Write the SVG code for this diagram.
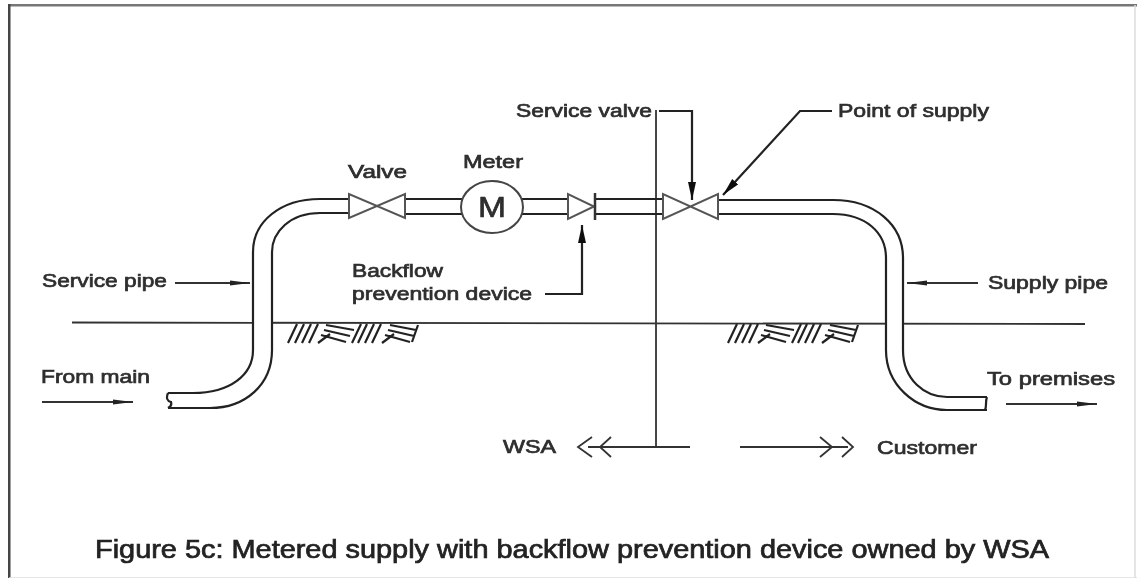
<svg xmlns="http://www.w3.org/2000/svg" width="1137" height="579" viewBox="0 0 1137 579">
<style>
text{font-family:"Liberation Sans",Arial,sans-serif;font-size:19px;fill:#2e2e2e;stroke:#2e2e2e;stroke-width:.7}
.l{fill:none;stroke:#222;stroke-width:2.200}
.t{fill:none;stroke:#333;stroke-width:1.800}
.h{fill:none;stroke:#222;stroke-width:2.200}
.s{fill:#fff;stroke:#555;stroke-width:2}
</style>
<defs>
<filter id="b" x="0" y="0" width="100%" height="100%"><feGaussianBlur stdDeviation="0.6"/></filter>
<marker id="a" markerUnits="userSpaceOnUse" markerWidth="22" markerHeight="10" refX="20" refY="5" orient="auto"><path d="M0 2.500L20 5L0 7.500Z" fill="#222"/></marker>
<marker id="c" markerUnits="userSpaceOnUse" markerWidth="20" markerHeight="10" refX="18" refY="5" orient="auto"><path d="M0 1L18 5L0 9Z" fill="#111"/></marker>
<g id="hatch" class="h"><path d="M0 19L9 0M7 19L16 0M14 19L23 0M21 19L30 0M38 1L66 6M36 6L62 12M33 11L58 18M30 19L42 10M64 19L73 0M70 19L79 0M77 19L86 0M84 19L93 0M102 1L128 6M100 6L126 12M97 11L122 18M94 19L106 10M130 1L124 18"/></g>
</defs>
<rect width="1137" height="579" fill="#fff"/>
<g filter="url(#b)">
<path d="M8 5H1137" fill="none" stroke="#777" stroke-width="3"/>
<path d="M9 4V578" fill="none" stroke="#444" stroke-width="3"/>
<path d="M9 578H1137M1135 5V578" fill="none" stroke="#ddd" stroke-width="1.500"/>
<g id="connectors">
<path class="t" d="M72 322.500L1085 324"/>
<path class="t" d="M656 110V447"/>
<path class="t" d="M588 447H690M740 447H848"/>
<path class="t" d="M175 283H250" marker-end="url(#a)"/>
<path class="t" d="M42 402H133" marker-end="url(#a)"/>
<path class="t" d="M978 283H907" marker-end="url(#a)"/>
<path class="t" d="M1006 404H1097" marker-end="url(#a)"/>
<path class="l" d="M659 111H692V200" marker-end="url(#c)"/>
<path class="l" d="M545 294H582V225" marker-end="url(#c)"/>
<path class="l" d="M832 111H800L723 195" marker-end="url(#c)"/>
<path class="t" d="M592 437L578 447L592 457M611 437L600 447L611 457"/>
<path class="t" d="M820 437L832 447L820 457M842 437L853 447L842 457"/>
</g>
<g id="ground-left"><use href="#hatch" x="288" y="324"/></g>
<g id="ground-right"><use href="#hatch" x="728" y="324"/></g>
<g id="service-pipe">
<path d="M168 393H193C230 393 253 375 253 350V252C253 222 280 199 320 199H350V213H320C290 213 272 232 272 252V350C272 385 245 408 210 408H168Z" fill="#fff" stroke="none"/>
<path class="l" d="M168 393H193C230 393 253 375 253 350V252C253 222 280 199 320 199H350M350 213H320C290 213 272 232 272 252V350C272 385 245 408 210 408H168M168 393C166 398 167 401 171 402C172 405 170 407 168 408"/>
</g>
<g id="supply-pipe">
<path d="M718 200H833C875 200 903 225 903 258V350C903 380 925 397 947 397H987V410H947C915 410 886 385 886 350V258C886 232 865 214 833 214H718Z" fill="#fff" stroke="none"/>
<path class="l" d="M718 200H833C875 200 903 225 903 258V350C903 380 925 397 947 397H987M718 214H833C865 214 886 232 886 258V350C886 385 915 410 947 410H987M987 397C985 402 987 406 985 410"/>
</g>
<g id="pipe-segments">
<path class="l" d="M405 199H462M405 214H462M522 199H567M522 214H567M596 199H663M596 214H663"/>
</g>
<g id="valve"><path class="s" d="M349 194V218L405 194V218Z"/></g>
<g id="meter"><ellipse cx="492" cy="207" rx="31" ry="26" fill="#fff" stroke="#444" stroke-width="2"/><text x="478" y="217" textLength="28" lengthAdjust="spacingAndGlyphs" style="font-size:30px">M</text></g>
<g id="backflow-device"><path class="s" d="M568 194V219L594 206.500Z"/><path d="M595 193V220" fill="none" stroke="#333" stroke-width="2.500"/></g>
<g id="service-valve"><path class="s" d="M663 194V219L718 194V219Z"/></g>
<g id="labels">
<text x="516" y="117" textLength="136" lengthAdjust="spacingAndGlyphs">Service valve</text>
<text x="838" y="117" textLength="151" lengthAdjust="spacingAndGlyphs">Point of supply</text>
<text x="463" y="168" textLength="60" lengthAdjust="spacingAndGlyphs">Meter</text>
<text x="348" y="178" textLength="59" lengthAdjust="spacingAndGlyphs">Valve</text>
<text x="352" y="277" textLength="91" lengthAdjust="spacingAndGlyphs">Backflow</text>
<text x="352" y="300" textLength="180" lengthAdjust="spacingAndGlyphs">prevention device</text>
<text x="42" y="287" textLength="125" lengthAdjust="spacingAndGlyphs">Service pipe</text>
<text x="988" y="289" textLength="120" lengthAdjust="spacingAndGlyphs">Supply pipe</text>
<text x="41" y="383" textLength="109" lengthAdjust="spacingAndGlyphs">From main</text>
<text x="987" y="385" textLength="128" lengthAdjust="spacingAndGlyphs">To premises</text>
<text x="503" y="453" textLength="53" lengthAdjust="spacingAndGlyphs">WSA</text>
<text x="877" y="454" textLength="100" lengthAdjust="spacingAndGlyphs">Customer</text>
<text x="95" y="558" textLength="954" lengthAdjust="spacingAndGlyphs" style="font-size:25px;fill:#222;stroke:#222">Figure 5c: Metered supply with backflow prevention device owned by WSA</text>
</g>
</g>
</svg>
